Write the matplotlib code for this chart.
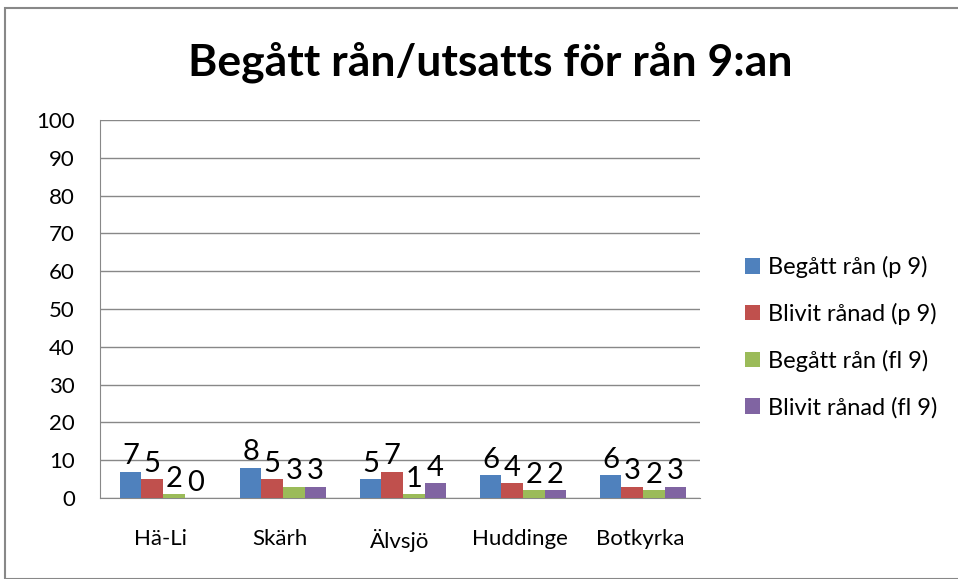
import matplotlib
matplotlib.use("Agg")
import matplotlib.pyplot as plt
import numpy as np
from matplotlib.patches import Rectangle

categories = ["Hä-Li", "Skärh", "Älvsjö", "Huddinge", "Botkyrka"]
series_names = ["Begått rån (p 9)", "Blivit rånad (p 9)", "Begått rån (fl 9)", "Blivit rånad (fl 9)"]
begatt_p9 = [7, 8, 5, 6, 6]
blivit_p9 = [5, 5, 7, 4, 3]
begatt_fl9 = [1, 3, 1, 2, 2]
blivit_fl9 = [0, 3, 4, 2, 3]
# data labels as printed in the chart
labels_begatt_p9 = ["7", "8", "5", "6", "6"]
labels_blivit_p9 = ["5", "5", "7", "4", "3"]
labels_begatt_fl9 = ["2", "3", "1", "2", "2"]
labels_blivit_fl9 = ["0", "3", "4", "2", "3"]
yticks = list(range(0, 101, 10))

colors = ["#4F81BD", "#C0504D", "#9BBB59", "#8064A2"]
series = [begatt_p9, blivit_p9, begatt_fl9, blivit_fl9]
labels = [labels_begatt_p9, labels_blivit_p9, labels_begatt_fl9, labels_blivit_fl9]

plt.rcParams['font.family'] = ['Lato', 'DejaVu Sans']

fig = plt.figure(figsize=(9.58, 5.79), dpi=100)
fig.patches.append(Rectangle((5/958, 0), 1.0, 1 - 8/579, transform=fig.transFigure,
                             fill=False, edgecolor="#888888", linewidth=1.5))

ax = fig.add_axes([100/958, 1 - 498/579, 600/958, (498 - 120)/579])
x = np.arange(len(categories))
w = 0.18
for i, (vals, col, lab) in enumerate(zip(series, colors, labels)):
    pos = x + (i - 1.5) * w + 0.025
    ax.bar(pos, vals, width=w, color=col, label=series_names[i], zorder=3)
    for p, v, t in zip(pos, vals, lab):
        ax.text(p, v + 0.6, t, ha="center", va="bottom", fontsize=21, color="black", zorder=4)

ax.set_xlim(-0.5, len(categories) - 0.5)
ax.set_ylim(0, 100)
ax.set_yticks(yticks)
ax.set_yticklabels([str(t) for t in yticks], fontsize=16)
ax.set_xticks(x)
ax.set_xticklabels(categories, fontsize=16)
ax.tick_params(axis="y", length=0, pad=18)
ax.tick_params(axis="x", length=0, pad=22)
ax.yaxis.grid(True, color="#888888", linewidth=1, zorder=0)
ax.set_axisbelow(True)
for s in ["top", "right"]:
    ax.spines[s].set_visible(False)
ax.spines["left"].set_color("#888888")
ax.spines["bottom"].set_color("#888888")

fig.text(490/958, 1 - 62/579, "Begått rån/utsatts för rån 9:an", ha="center", va="center",
         fontsize=32, fontweight="bold")

handles, labs = ax.get_legend_handles_labels()
leg = fig.legend(handles, labs, loc="center left", bbox_to_anchor=(733/958, 1 - 337/579),
                 frameon=False, fontsize=17, handlelength=0.65, handleheight=0.65,
                 labelspacing=1.05, handletextpad=0.35, borderpad=0)

fig.savefig("out.png", dpi=100)
